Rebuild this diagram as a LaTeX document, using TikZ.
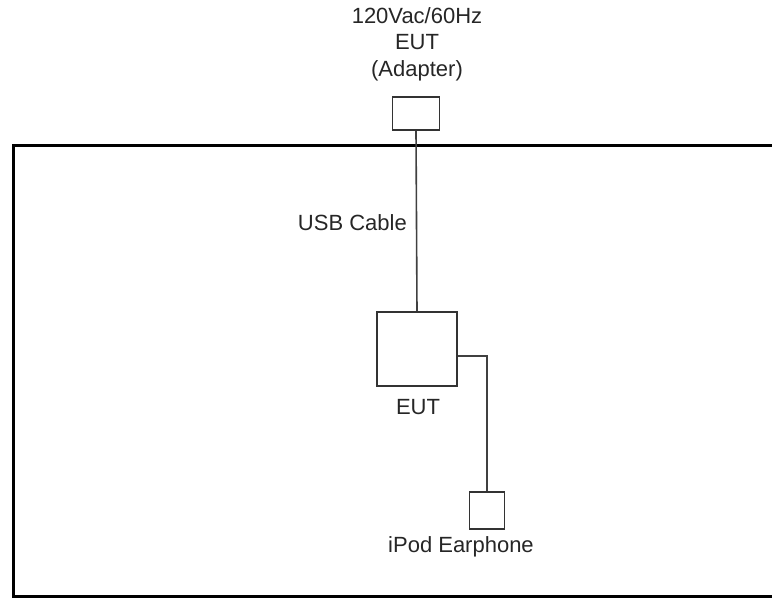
\documentclass[tikz,border=0pt]{standalone}
\usepackage{fontspec}
\setmainfont{Liberation Sans}
\begin{document}
\begin{tikzpicture}[x=1pt,y=-1pt,
  box/.style={draw=black!80,line width=1.6pt,fill=white,inner sep=0pt,minimum width=#1},
  wire/.style={draw=black!75,line width=1.6pt},
  lbl/.style={inner sep=0pt,align=center,font=\fontsize{22}{26.5}\selectfont,text=black!85}]
\useasboundingbox (0,0) rectangle (772,601);
% frame
\draw[line width=3pt,black] (775,146) -- (13,146) -- (13,597) -- (775,597);
% nodes
\node[box=47pt,minimum height=33pt] (adapter) at (416,113.5) {};
\node[box=80pt,minimum height=74pt] (eut) at (417,349) {};
\node[box=35pt,minimum height=37pt] (ear) at (487,510.5) {};
\node[lbl] (toplbl) at (417,44) {120Vac/60Hz\\EUT\\(Adapter)};
\node[lbl,anchor=east] (usb) at (407,223) {USB Cable};
\node[lbl] (eutlbl) at (418,407) {EUT};
\node[lbl] (earlbl) at (461,547) {iPod Earphone};
% connectors
\draw[wire] (adapter.south) -- (eut.north);
\draw[wire] ([yshift=-7pt]eut.east) -| (ear.north);
\end{tikzpicture}
\end{document}
